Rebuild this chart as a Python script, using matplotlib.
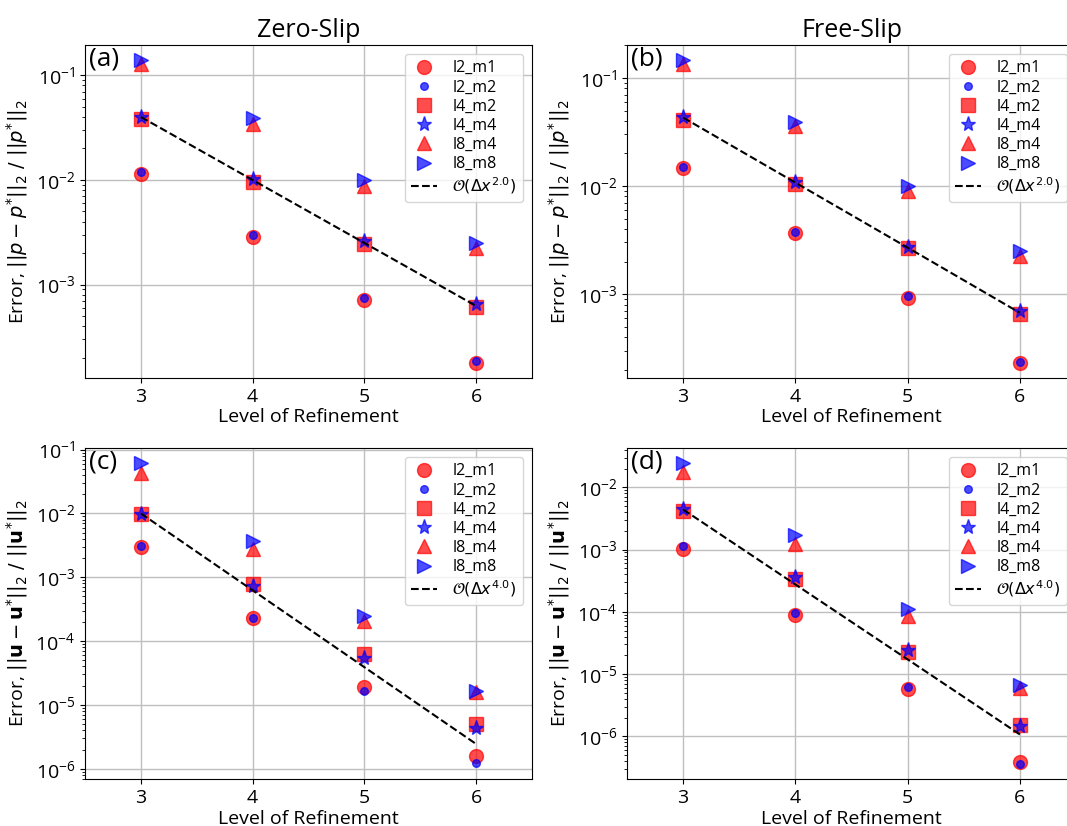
import matplotlib
matplotlib.use("Agg")
import matplotlib.pyplot as plt

plt.rcParams['font.family'] = ['Open Sans', 'DejaVu Sans']
plt.rcParams['mathtext.fontset'] = 'dejavusans'

levels = [3, 4, 5, 6]
series_names = ['l2_m1', 'l2_m2', 'l4_m2', 'l4_m4', 'l8_m4', 'l8_m8']

# Panel (a): Zero-Slip, pressure
a_l2_m1 = [0.0115, 0.00285, 7.2e-4, 1.78e-4]
a_l2_m2 = [0.0119, 0.00297, 7.5e-4, 1.87e-4]
a_l4_m2 = [0.0384, 0.0096, 2.44e-3, 6.1e-4]
a_l4_m4 = [0.040, 0.0103, 2.6e-3, 6.5e-4]
a_l8_m4 = [0.127, 0.0346, 0.0088, 0.00223]
a_l8_m8 = [0.139, 0.039, 0.0100, 0.0025]
a_ref = [0.040, 0.010, 0.0025, 6.25e-4]

# Panel (b): Free-Slip, pressure
b_l2_m1 = [0.0147, 0.00366, 9.2e-4, 2.29e-4]
b_l2_m2 = [0.0151, 0.00376, 9.5e-4, 2.37e-4]
b_l4_m2 = [0.0409, 0.0105, 0.00264, 6.6e-4]
b_l4_m4 = [0.0434, 0.0109, 0.00275, 6.9e-4]
b_l8_m4 = [0.134, 0.0356, 0.0090, 0.00225]
b_l8_m8 = [0.147, 0.0392, 0.0100, 0.0025]
b_ref = [0.043, 0.01075, 0.00269, 6.7e-4]

# Panel (c): Zero-Slip, velocity
c_l2_m1 = [0.00296, 2.34e-4, 1.92e-5, 1.58e-6]
c_l2_m2 = [0.0031, 2.26e-4, 1.66e-5, 1.21e-6]
c_l4_m2 = [0.0098, 7.7e-4, 6.2e-5, 5.1e-6]
c_l4_m4 = [0.0097, 7.3e-4, 5.5e-5, 4.4e-6]
c_l8_m4 = [0.0423, 0.00282, 2.05e-4, 1.6e-5]
c_l8_m8 = [0.0622, 0.00373, 2.46e-4, 1.66e-5]
c_ref = [0.0100, 6.25e-4, 3.9e-5, 2.44e-6]

# Panel (d): Free-Slip, velocity
d_l2_m1 = [1.02e-3, 8.8e-5, 5.8e-6, 3.87e-7]
d_l2_m2 = [1.12e-3, 9.5e-5, 6.1e-6, 3.6e-7]
d_l4_m2 = [4.15e-3, 3.42e-4, 2.3e-5, 1.52e-6]
d_l4_m4 = [4.4e-3, 3.64e-4, 2.41e-5, 1.48e-6]
d_l8_m4 = [0.0175, 1.24e-3, 8.6e-5, 5.97e-6]
d_l8_m8 = [0.025, 1.72e-3, 1.1e-4, 6.76e-6]
d_ref = [4.4e-3, 2.75e-4, 1.72e-5, 1.07e-6]

titles = ['Zero-Slip', 'Free-Slip']
panel_tags = ['(a)', '(b)', '(c)', '(d)']
ref_labels = [r'$\mathcal{O}(\Delta x^{2.0})$', r'$\mathcal{O}(\Delta x^{2.0})$',
              r'$\mathcal{O}(\Delta x^{4.0})$', r'$\mathcal{O}(\Delta x^{4.0})$']
ylabel_p = r'Error, $||p - p^{*}||_2\ /\ ||p^{*}||_2$'
ylabel_u = r'Error, $||\mathbf{u} - \mathbf{u}^{*}||_2\ /\ ||\mathbf{u}^{*}||_2$'
xlabel = 'Level of Refinement'

panels = [
    [a_l2_m1, a_l2_m2, a_l4_m2, a_l4_m4, a_l8_m4, a_l8_m8, a_ref],
    [b_l2_m1, b_l2_m2, b_l4_m2, b_l4_m4, b_l8_m4, b_l8_m8, b_ref],
    [c_l2_m1, c_l2_m2, c_l4_m2, c_l4_m4, c_l8_m4, c_l8_m8, c_ref],
    [d_l2_m1, d_l2_m2, d_l4_m2, d_l4_m4, d_l8_m4, d_l8_m8, d_ref],
]
ylims = [(1.28e-4, 0.195), (1.67e-4, 0.202), (6.9e-7, 0.106), (2.06e-7, 0.0428)]

styles = [
    dict(marker='o', color='r', ms=10),
    dict(marker='o', color='b', ms=5.5),
    dict(marker='s', color='r', ms=10),
    dict(marker='*', color='b', ms=11),
    dict(marker='^', color='r', ms=10),
    dict(marker='>', color='b', ms=10),
]

W, H = 1067, 826
fig = plt.figure(figsize=(W / 100, H / 100), dpi=100)
boxes = [
    (85, 45, 532, 378),
    (627, 45, 1076, 378),
    (85, 448, 532, 779),
    (627, 448, 1076, 779),
]

for i, (x0, y0, x1, y1) in enumerate(boxes):
    ax = fig.add_axes([x0 / W, 1 - y1 / H, (x1 - x0) / W, (y1 - y0) / H])
    data = panels[i]
    for name, vals, st in zip(series_names, data[:6], styles):
        ax.plot(levels, vals, linestyle='none', marker=st['marker'], color=st['color'],
                markersize=st['ms'], alpha=0.7, label=name, markeredgewidth=1)
    ax.plot(levels, data[6], 'k--', lw=1.5, label=ref_labels[i])
    ax.set_yscale('log')
    ax.set_xlim(2.5, 6.5)
    ax.set_ylim(*ylims[i])
    ax.set_xticks(levels)
    ax.grid(True, which='major', color='0.75', lw=1)
    ax.set_axisbelow(True)
    ax.tick_params(axis='both', which='major', labelsize=14)
    ax.set_xlabel(xlabel, fontsize=14, labelpad=2)
    ax.set_ylabel(ylabel_p if i < 2 else ylabel_u, fontsize=14)
    ax.text(0.008, 0.995, panel_tags[i], transform=ax.transAxes, fontsize=19,
            va='top', ha='left')
    ax.legend(loc='upper right', fontsize=11.5, labelspacing=0.2, framealpha=0.8,
              borderpad=0.4, handlelength=1.6, handletextpad=1.0, borderaxespad=0.55)
    if i < 2:
        ax.set_title(titles[i], fontsize=18, pad=6)

fig.savefig('out.png', dpi=100)
